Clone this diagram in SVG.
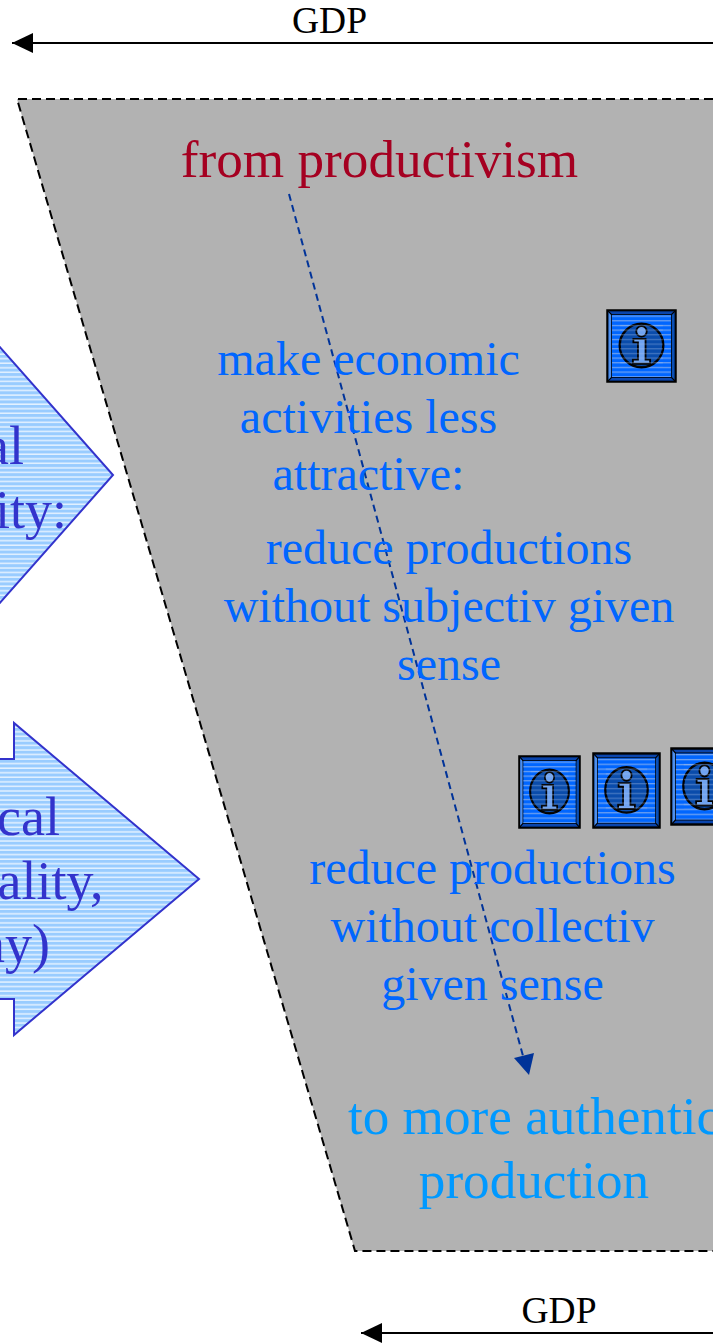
<svg xmlns="http://www.w3.org/2000/svg" width="713" height="1343" viewBox="0 0 713 1343">
<style>
text{font-family:"Liberation Serif","Times New Roman",serif;text-anchor:middle}
.gdp{font-size:37.500px;fill:#000}
.b{font-size:48px;fill:#0066ff}
.big{font-size:53.200px}
.ar{font-size:54px;fill:#3333cc;text-anchor:end}
.shape{fill:url(#st);stroke:#3333cc;stroke-width:2}
</style>
<defs>
<pattern id="st" width="10" height="4.55" patternUnits="userSpaceOnUse"><rect width="10" height="4.55" fill="#99ccff"/><rect y="3.2" width="10" height="1.1" fill="#fff"/></pattern>
<pattern id="ic" width="10" height="4.6" patternUnits="userSpaceOnUse"><rect y="2" width="10" height="1" fill="#a8bfe8" opacity=".8"/></pattern>
<marker id="ah" markerUnits="userSpaceOnUse" markerWidth="22" markerHeight="22" refX="21" refY="10" orient="auto"><path d="M0 0L21 10L0 20Z" fill="#000"/></marker>
<symbol id="info" viewBox="0 0 70 73" preserveAspectRatio="none">
<rect x="1.500" y="1.500" width="67" height="70" fill="#0066ff" stroke="#000" stroke-width="2.500"/>
<path d="M2.500 2.500L6 6V67L2.500 70.500Z" fill="#4d8fee"/>
<path d="M67.500 2.500L64 6V67L67.500 70.500Z" fill="#0a4fb5"/>
<path d="M2.500 70.500L6 67H64L67.500 70.500Z" fill="#0a45ad"/>
<path d="M2.500 2.500L6 6H64L67.500 2.500Z" fill="#0a45ad"/>
<path d="M2 2L6 6M68 2L64 6M2 71L6 67M68 71L64 67" stroke="#000" stroke-width="1.200"/>
<rect x="5.500" y="5.500" width="59" height="62" fill="#0066ff" stroke="#000" stroke-width=".8"/>
<rect x="6" y="6" width="58" height="61" fill="url(#ic)"/>
<circle cx="35" cy="36" r="21.500" fill="#0a4cab" stroke="#000" stroke-width="2.300"/>
<circle cx="35" cy="22" r="5.200" fill="#6fa3f0" stroke="#000" stroke-width="1.800"/>
<path d="M27 29.500H39V50H43.500V54H26.500V50H31.500V33H27Z" fill="#6fa3f0" stroke="#000" stroke-width="1.800"/>
<rect x="14" y="15" width="42" height="42" fill="url(#ic)" opacity=".55"/>
</symbol>
</defs>
<g id="trapezoid"><path d="M17 99H713V1251H355Z" fill="#b2b2b2"/><path d="M713 99H17L355 1251H713" fill="none" stroke="#000" stroke-width="2" stroke-dasharray="9 5"/></g>
<g id="arrow-upper"><path class="shape" d="M-2 345L113 475L-2 605Z"/><text class="ar" x="24" y="464">al</text><text class="ar" x="67" y="528">ity:</text></g>
<g id="arrow-lower"><path class="shape" d="M-4 759H14V723L199 879L14 1035V999H-4Z"/><text class="ar" x="60" y="835">cal</text><text class="ar" x="103.500" y="899">ality,</text><text class="ar" x="50" y="962">ny)</text></g>
<g id="connectors">
<path d="M713 43H12" stroke="#000" stroke-width="2" fill="none" marker-end="url(#ah)"/>
<path d="M713 1333H361" stroke="#000" stroke-width="2" fill="none" marker-end="url(#ah)"/>
<path d="M289 194L523 1056" stroke="#003399" stroke-width="2" stroke-dasharray="7 4.500" fill="none"/>
<path d="M529 1075L514 1058L534 1053Z" fill="#003399"/>
</g>
<g id="gdp-top"><text class="gdp" x="329.500" y="33">GDP</text></g>
<g id="gdp-bottom"><text class="gdp" x="559" y="1323">GDP</text></g>
<g id="from"><text class="big" x="379.500" y="177" fill="#a50021">from productivism</text></g>
<g id="make"><text class="b" x="368.500" y="375">make economic</text><text class="b" x="368.500" y="433">activities less</text><text class="b" x="368.500" y="490">attractive:</text></g>
<g id="subjective"><text class="b" x="449" y="564">reduce productions</text><text class="b" x="449" y="622">without subjectiv given</text><text class="b" x="449" y="680">sense</text></g>
<g id="collective"><text class="b" x="492.500" y="884">reduce productions</text><text class="b" x="492.500" y="942">without collectiv</text><text class="b" x="492.500" y="1000">given sense</text></g>
<g id="to"><text class="big" x="534" y="1134" fill="#0099ff">to more authentic</text><text class="big" x="534" y="1198" fill="#0099ff">production</text></g>
<g id="icon-1"><use href="#info" x="606" y="309" width="71" height="74"/></g>
<g id="icon-2"><use href="#info" x="518" y="755" width="63" height="74"/></g>
<g id="icon-3"><use href="#info" x="592" y="752" width="69" height="77"/></g>
<g id="icon-4"><use href="#info" x="670" y="747" width="69" height="79"/></g>
</svg>
